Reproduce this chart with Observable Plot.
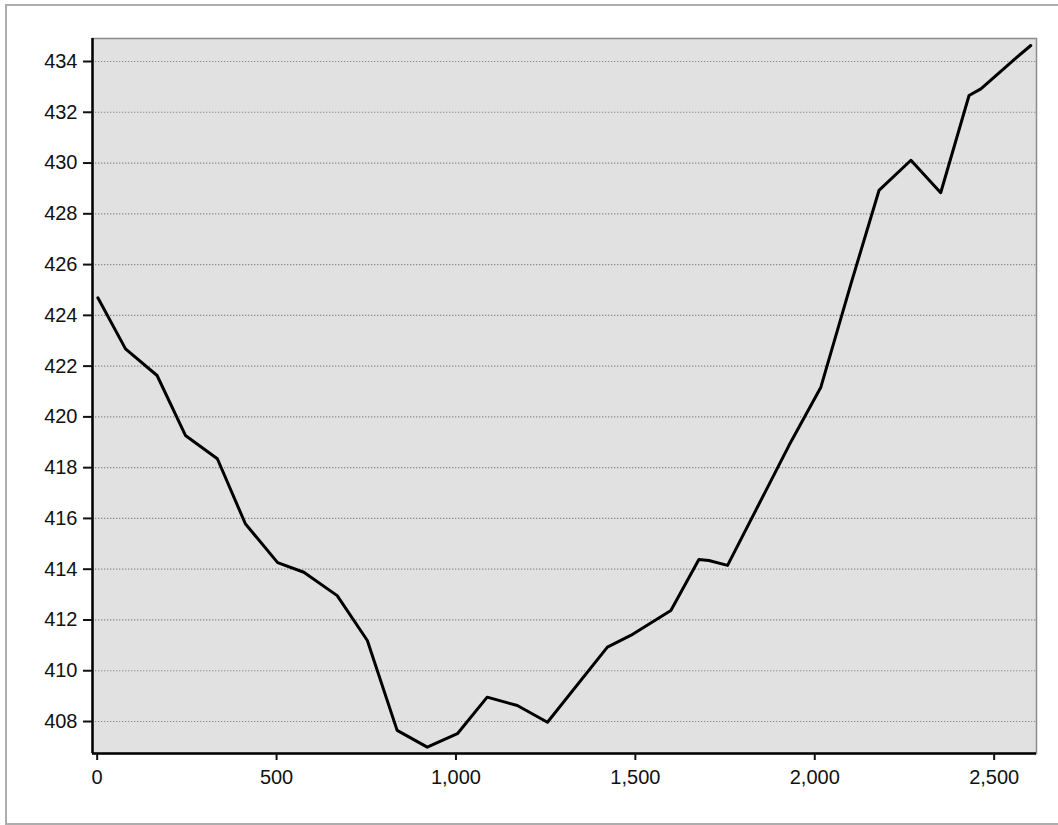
<!DOCTYPE html>
<html>
<head>
<meta charset="utf-8">
<script src="https://cdn.jsdelivr.net/npm/d3@7"></script>
<script src="https://cdn.jsdelivr.net/npm/@observablehq/plot@0.6"></script>
<style>
  html, body { margin: 0; padding: 0; background: #fff; overflow: hidden; }
  #wrap { position: relative; width: 1058px; height: 825px; }
  #border { position: absolute; left: 5px; top: 4px; width: 1100px; height: 821px;
            border: 2px solid #adadad; box-sizing: border-box; }
  #chart { position: absolute; left: 0; top: 0; }
</style>
</head>
<body>
<div id="wrap"><div id="border"></div><div id="chart"></div></div>
<script>
// distance along profile
const distances = [2, 79, 167, 246, 335, 413, 503, 576, 669, 753, 836, 920, 1004, 1087, 1171, 1255,
  1422, 1487, 1599, 1677, 1705, 1757, 1840, 1928, 2017, 2100, 2179, 2268, 2351, 2430, 2463, 2547, 2602];
// elevation
const elevations = [424.69, 422.68, 421.63, 419.27, 418.35, 415.79, 414.26, 413.88, 412.96, 411.19,
  407.65, 406.99, 407.52, 408.96, 408.63, 407.97, 410.93, 411.39, 412.37, 414.38, 414.34, 414.15,
  416.44, 418.87, 421.17, 425.2, 428.92, 430.11, 428.83, 432.66, 432.92, 433.97, 434.63];
const yTicks = [408, 410, 412, 414, 416, 418, 420, 422, 424, 426, 428, 430, 432, 434];
const xTicks = [0, 500, 1000, 1500, 2000, 2500];
const xDomain = [-13, 2618];
const yDomain = [406.74, 434.906];

const data = distances.map((d, i) => ({x: d, y: elevations[i]}));

const chart = Plot.plot({
  width: 1058,
  height: 825,
  marginLeft: 92,
  marginTop: 38,
  marginRight: 22,
  marginBottom: 72,
  style: {fontFamily: "'Liberation Sans', Arial, sans-serif", fontSize: "20px", color: "#111", background: "transparent"},
  x: {domain: xDomain},
  y: {domain: yDomain},
  marks: [
    Plot.frame({fill: "#e1e1e1", stroke: "#8c8c8c", strokeWidth: 1.5}),
    Plot.ruleY(yTicks, {stroke: "#8a8a8a", strokeDasharray: "1.3,1.7", strokeWidth: 1.2}),
    Plot.ruleX([xDomain[0]], {stroke: "#000", strokeWidth: 2.5}),
    Plot.ruleY([yDomain[0]], {stroke: "#000", strokeWidth: 2.5}),
    Plot.axisY(yTicks, {tickSize: 9, tickPadding: 6, strokeWidth: 2, tickFormat: d => String(d), label: null}),
    Plot.axisX(xTicks, {tickSize: 7, tickPadding: 9, strokeWidth: 2, tickFormat: d3.format(","), label: null}),
    Plot.line(data, {x: "x", y: "y", stroke: "#000", strokeWidth: 3})
  ]
});
document.getElementById("chart").appendChild(chart);
</script>
</body>
</html>
